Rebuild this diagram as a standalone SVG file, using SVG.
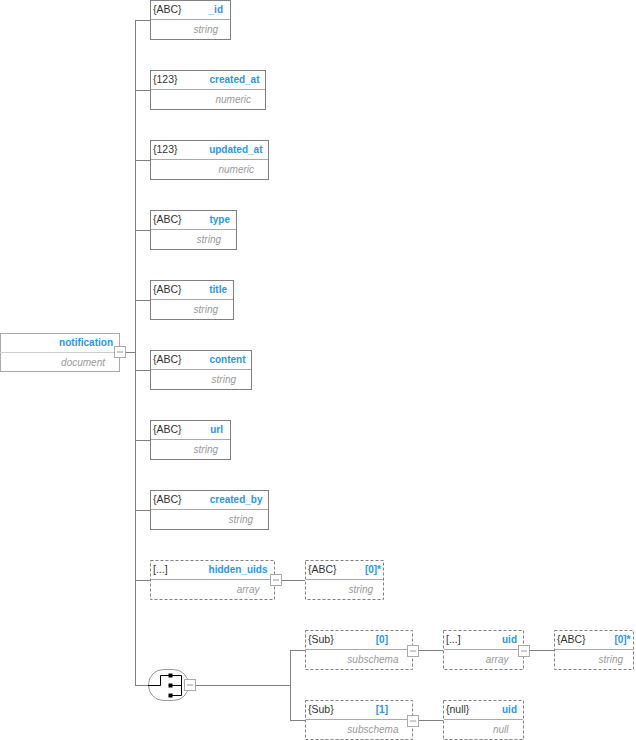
<svg xmlns="http://www.w3.org/2000/svg" width="636" height="740" viewBox="0 0 636 740">
<style>
.box{fill:#fff;stroke:#808080;stroke-width:1}
.dash{fill:#fff;stroke:#808080;stroke-width:1;stroke-dasharray:3,2}
.sep{stroke:#aaa;stroke-width:1}
.ln{stroke:#808080;stroke-width:1;fill:none}
.lt{font-family:"Liberation Sans",Arial,sans-serif;font-size:10.5px;fill:#333}
.nm{font-family:"Liberation Sans",Arial,sans-serif;font-size:10px;font-weight:bold;fill:#2a95f0;text-anchor:end}
.ty{font-family:"Liberation Sans",Arial,sans-serif;font-size:10px;font-style:italic;fill:#999;text-anchor:end}
.btn{fill:#fff;stroke:#aaa;stroke-width:1}
.bl{stroke:#999;stroke-width:1}
</style>
<defs>
<g id="minus"><rect class="btn" x="0.5" y="0.5" width="11" height="11"/><line class="bl" x1="3" y1="6" x2="9" y2="6"/></g>
</defs>
<g id="connectors">
<line class="ln" x1="135.5" y1="20" x2="135.5" y2="685.5"/>
<line class="ln" x1="126" y1="352.5" x2="135.5" y2="352.5"/>
<line class="ln" x1="135" y1="20.5" x2="150" y2="20.5"/>
<line class="ln" x1="135" y1="90.5" x2="150" y2="90.5"/>
<line class="ln" x1="135" y1="160.5" x2="150" y2="160.5"/>
<line class="ln" x1="135" y1="230.5" x2="150" y2="230.5"/>
<line class="ln" x1="135" y1="300.5" x2="150" y2="300.5"/>
<line class="ln" x1="135" y1="370.5" x2="150" y2="370.5"/>
<line class="ln" x1="135" y1="440.5" x2="150" y2="440.5"/>
<line class="ln" x1="135" y1="510.5" x2="150" y2="510.5"/>
<line class="ln" x1="135" y1="580.5" x2="150" y2="580.5"/>
<line class="ln" x1="135" y1="685.5" x2="149" y2="685.5"/>
<line class="ln" x1="282" y1="580.5" x2="305" y2="580.5"/>
<line class="ln" x1="196" y1="685.5" x2="290.5" y2="685.5"/>
<line class="ln" x1="290.5" y1="650" x2="290.5" y2="721"/>
<line class="ln" x1="290" y1="650.5" x2="305" y2="650.5"/>
<line class="ln" x1="290" y1="720.5" x2="305" y2="720.5"/>
<line class="ln" x1="419" y1="650.5" x2="443" y2="650.5"/>
<line class="ln" x1="419" y1="720.5" x2="443" y2="720.5"/>
<line class="ln" x1="530" y1="650.5" x2="554" y2="650.5"/>
</g>
<g id="notification">
<rect x="0.5" y="333.5" width="119" height="38" fill="#fff" stroke="#aaa"/>
<line x1="0" y1="352.5" x2="120" y2="352.5" stroke="#ccc"/>
<text class="nm" x="113" y="346">notification</text>
<text class="ty" x="105" y="366">document</text>
<use href="#minus" x="114" y="346"/>
</g>
<g id="n_id">
<rect class="box" x="150.5" y="0.5" width="80" height="39"/>
<line class="sep" x1="151" y1="19.5" x2="230" y2="19.5"/>
<text class="lt" x="153" y="13">{ABC}</text>
<text class="nm" x="223" y="13">_id</text>
<text class="ty" x="218" y="33">string</text>
</g>
<g id="n_created_at">
<rect class="box" x="150.5" y="70.5" width="115" height="39"/>
<line class="sep" x1="151" y1="89.5" x2="265" y2="89.5"/>
<text class="lt" x="153" y="83">{123}</text>
<text class="nm" x="259.5" y="83">created_at</text>
<text class="ty" x="251" y="103">numeric</text>
</g>
<g id="n_updated_at">
<rect class="box" x="150.5" y="140.5" width="118" height="39"/>
<line class="sep" x1="151" y1="159.5" x2="268" y2="159.5"/>
<text class="lt" x="153" y="153">{123}</text>
<text class="nm" x="262.5" y="153">updated_at</text>
<text class="ty" x="254" y="173">numeric</text>
</g>
<g id="n_type">
<rect class="box" x="150.5" y="210.5" width="86" height="39"/>
<line class="sep" x1="151" y1="229.5" x2="236" y2="229.5"/>
<text class="lt" x="153" y="223">{ABC}</text>
<text class="nm" x="230" y="223">type</text>
<text class="ty" x="221" y="243">string</text>
</g>
<g id="n_title">
<rect class="box" x="150.5" y="280.5" width="83" height="39"/>
<line class="sep" x1="151" y1="299.5" x2="233" y2="299.5"/>
<text class="lt" x="153" y="293">{ABC}</text>
<text class="nm" x="227" y="293">title</text>
<text class="ty" x="218" y="313">string</text>
</g>
<g id="n_content">
<rect class="box" x="150.5" y="350.5" width="101" height="39"/>
<line class="sep" x1="151" y1="369.5" x2="251" y2="369.5"/>
<text class="lt" x="153" y="363">{ABC}</text>
<text class="nm" x="245.5" y="363">content</text>
<text class="ty" x="236" y="383">string</text>
</g>
<g id="n_url">
<rect class="box" x="150.5" y="420.5" width="80" height="39"/>
<line class="sep" x1="151" y1="439.5" x2="230" y2="439.5"/>
<text class="lt" x="153" y="433">{ABC}</text>
<text class="nm" x="223" y="433">url</text>
<text class="ty" x="218" y="453">string</text>
</g>
<g id="n_created_by">
<rect class="box" x="150.5" y="490.5" width="118" height="39"/>
<line class="sep" x1="151" y1="509.5" x2="268" y2="509.5"/>
<text class="lt" x="153" y="503">{ABC}</text>
<text class="nm" x="262.5" y="503">created_by</text>
<text class="ty" x="253" y="523">string</text>
</g>
<g id="n_hidden_uids">
<rect class="dash" x="150.5" y="560.5" width="124" height="39"/>
<line class="sep" x1="151" y1="579.5" x2="274" y2="579.5"/>
<text class="lt" x="153" y="573">[...]</text>
<text class="nm" x="267.5" y="573">hidden_uids</text>
<text class="ty" x="259.5" y="593">array</text>
<use href="#minus" x="270" y="574"/>
</g>
<g id="n_hidden_item">
<rect class="dash" x="305.5" y="560.5" width="78" height="39"/>
<line class="sep" x1="306" y1="579.5" x2="383" y2="579.5"/>
<text class="lt" x="308" y="573">{ABC}</text>
<text class="nm" x="381" y="573">[0]*</text>
<text class="ty" x="373" y="593">string</text>
</g>
<g id="n_anyof">
<rect x="148.5" y="669.5" width="40" height="31" rx="15" ry="15" fill="#fff" stroke="#999"/>
<path d="M148 685.5H160.5V675.5H181.5V695.5M170.5 685.5H181.5M170.5 695.5H181.5" fill="none" stroke="#000" stroke-width="1"/>
<rect x="168.5" y="673.5" width="4" height="4" fill="#000"/>
<rect x="168.5" y="683.5" width="4" height="4" fill="#000"/>
<rect x="168.5" y="693.5" width="4" height="4" fill="#000"/>
<use href="#minus" x="184" y="679"/>
</g>
<g id="n_sub0">
<rect class="dash" x="305.5" y="630.5" width="107" height="39"/>
<line class="sep" x1="306" y1="649.5" x2="412" y2="649.5"/>
<text class="lt" x="308" y="643">{Sub}</text>
<text class="nm" x="388" y="643">[0]</text>
<text class="ty" x="398.5" y="663">subschema</text>
<use href="#minus" x="407" y="645"/>
</g>
<g id="n_sub1">
<rect class="dash" x="305.5" y="700.5" width="107" height="39"/>
<line class="sep" x1="306" y1="719.5" x2="412" y2="719.5"/>
<text class="lt" x="308" y="713">{Sub}</text>
<text class="nm" x="388" y="713">[1]</text>
<text class="ty" x="398.5" y="733">subschema</text>
<use href="#minus" x="407" y="715"/>
</g>
<g id="n_uid_array">
<rect class="dash" x="443.5" y="630.5" width="80" height="39"/>
<line class="sep" x1="444" y1="649.5" x2="523" y2="649.5"/>
<text class="lt" x="446" y="643">[...]</text>
<text class="nm" x="517" y="643">uid</text>
<text class="ty" x="508.5" y="663">array</text>
<use href="#minus" x="518" y="645"/>
</g>
<g id="n_uid_item">
<rect class="dash" x="554.5" y="630.5" width="79" height="39"/>
<line class="sep" x1="555" y1="649.5" x2="633" y2="649.5"/>
<text class="lt" x="557" y="643">{ABC}</text>
<text class="nm" x="630.5" y="643">[0]*</text>
<text class="ty" x="623" y="663">string</text>
</g>
<g id="n_uid_null">
<rect class="dash" x="443.5" y="700.5" width="80" height="39"/>
<line class="sep" x1="444" y1="719.5" x2="523" y2="719.5"/>
<text class="lt" x="446" y="713">{null}</text>
<text class="nm" x="517" y="713">uid</text>
<text class="ty" x="508.5" y="733">null</text>
</g>
</svg>
